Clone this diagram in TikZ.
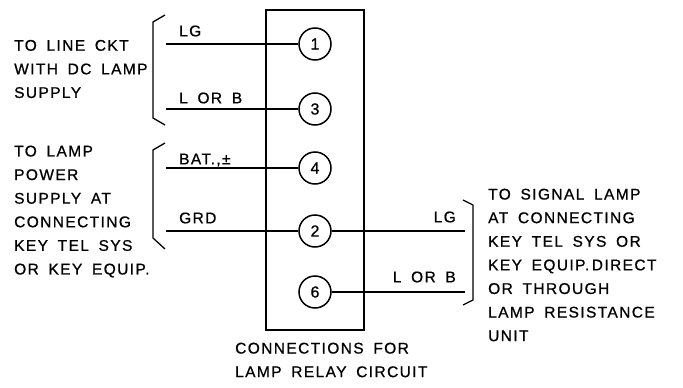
\documentclass[tikz,border=0pt]{standalone}
\usepackage{fontspec}
\setmainfont{Liberation Sans}[LetterSpace=9, WordSpace=1.7, FakeBold=0.8]
\usetikzlibrary{positioning}
\tikzset{
    relaybox/.style={rectangle, draw, line width=1.5pt, minimum width=98pt, minimum height=320pt, inner sep=0pt},
    pin/.style={circle, draw, line width=1.5pt, minimum size=32pt, inner sep=0pt, fill=white, font=\fontsize{16}{16}\selectfont},
    wire/.style={draw, line width=1.5pt},
    brace/.style={draw, line width=1.3pt, line join=round},
    note/.style={align=left, anchor=west, inner sep=0pt, font=\fontsize{15.5}{23.6}\selectfont},
    tag/.style={anchor=west, inner sep=0pt, font=\fontsize{15.5}{16}\selectfont}
}
\begin{document}
\begin{tikzpicture}[x=1pt, y=-1pt]
    \useasboundingbox (0,0) rectangle (683,388);
    % Relay block and its terminals
    \node [relaybox] (block) at (315,170) {};
    \node [pin] (pinA) at (315,44) {1};
    \node [pin] (pinC) at (315,109) {3};
    \node [pin] (pinD) at (315,168) {4};
    \node [pin] (pinB) at (315,231) {2};
    \node [pin] (pinF) at (315,292) {6};

    % Free ends of the wires
    \coordinate (lgin) at (166,44);
    \coordinate (lbin) at (166,109);
    \coordinate (batin) at (166,168);
    \coordinate (grdin) at (166,231);
    \coordinate (lgout) at (465,231);
    \coordinate (lbout) at (465,292);

    % Connections
    \path [wire] (lgin) -- (pinA);
    \path [wire] (lbin) -- (pinC);
    \path [wire] (batin) -- (pinD);
    \path [wire] (grdin) -- (pinB);
    \path [wire] (pinB) -- (lgout);
    \path [wire] (pinF) -- (lbout);

    % Wire labels
    \node [tag] (taglg) at (179,31) {LG};
    \node [tag] (taglb) at (179,98) {L OR B};
    \node [tag] (tagbat) at (179,160) {BAT.,±};
    \node [tag] (taggrd) at (179,218) {GRD};
    \node [tag, anchor=east] (taglgout) at (456,217) {LG};
    \node [tag, anchor=east] (taglbout) at (456,277) {L OR B};

    % Brackets
    \path [brace] (165,15) -- (153,22) -- (153,118) -- (165,125);
    \path [brace] (165,143) -- (153,150) -- (153,238) -- (165,249);
    \path [brace] (463,200) -- (473,205) -- (473,300) -- (463,305);

    % Notes
    \node [note] (linenote) at (14,69) {TO LINE CKT\\WITH DC LAMP\\SUPPLY};
    \node [note] (powernote) at (14,211.5) {TO LAMP\\POWER\\SUPPLY AT\\CONNECTING\\KEY TEL SYS\\OR KEY EQUIP.};
    \node [note] (signalnote) at (488,265) {TO SIGNAL LAMP\\AT CONNECTING\\KEY TEL SYS OR\\KEY EQUIP.\,DIRECT\\OR THROUGH\\LAMP RESISTANCE\\UNIT};
    \node [note] (titlenote) at (235,360) {CONNECTIONS FOR\\LAMP RELAY CIRCUIT};
\end{tikzpicture}
\end{document}
